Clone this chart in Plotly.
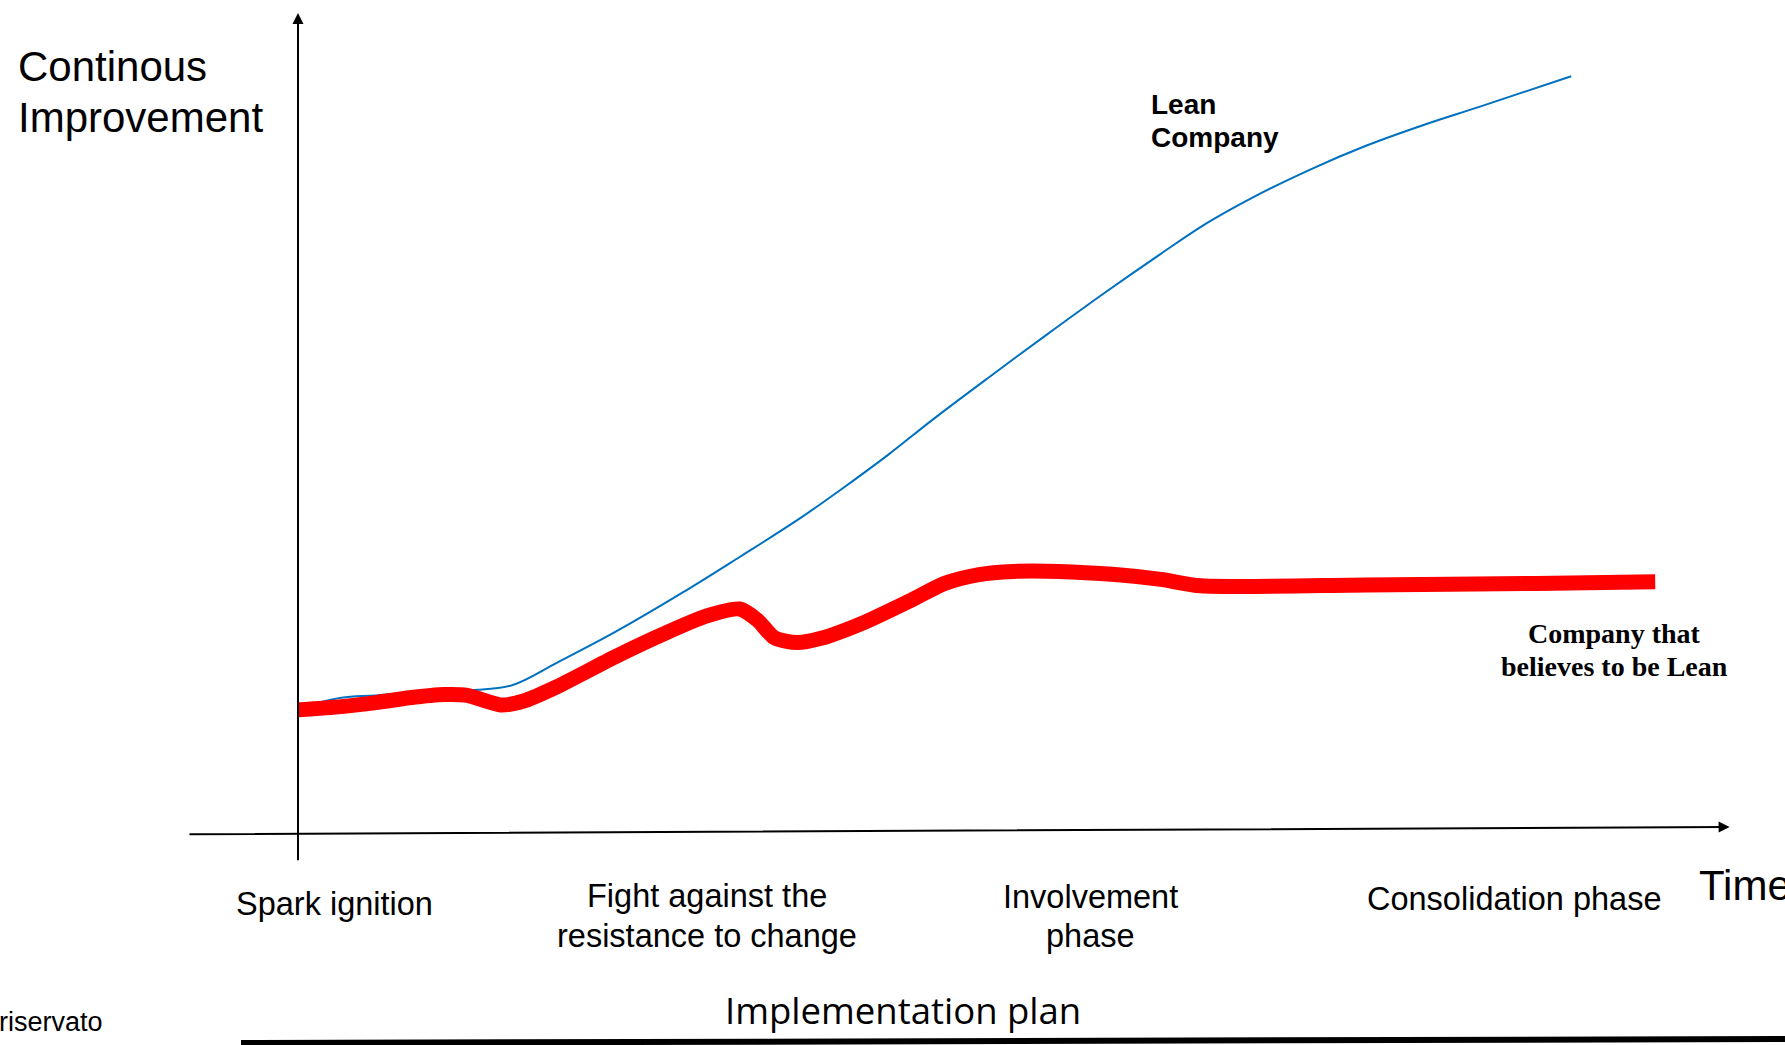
import plotly.graph_objects as go

# ---------------- data ----------------
# "Lean Company" curve: time vs continuous improvement (arbitrary units)
lean_t = [0, 3.6, 6.5, 12.2, 15.0, 17.9, 21.6, 26.4, 32.1, 36.8, 41.6, 45.4, 49.2,
          53.0, 57.7, 62.4, 67.2, 71.9, 75.7, 79.5, 84.3, 89.0, 93.8, 98.5, 106.1]
lean_v = [15.6, 16.9, 17.2, 17.9, 17.9, 18.5, 21.3, 25.1, 30.1, 34.5, 39.1, 43.1, 47.3,
          51.8, 57.1, 62.3, 67.5, 72.4, 76.2, 79.4, 82.9, 85.9, 88.5, 90.8, 94.6]

# "Company that believes to be Lean" curve
believer_t = [0, 3.6, 6.5, 9.3, 12.2, 14.1, 16.9, 18.8, 21.6, 26.4, 30.2, 34.0, 36.8,
              38.3, 39.7, 41.6, 43.5, 47.3, 51.1, 53.9, 56.75, 59.6, 63.4, 68.1, 71.9,
              75.25, 89.0, 103.2, 113.1]
believer_v = [15.4, 15.8, 16.3, 16.9, 17.3, 17.2, 16.0, 16.5, 18.3, 22.0, 24.7, 27.1, 28.0,
              26.6, 24.4, 23.8, 24.3, 26.4, 29.1, 31.2, 32.3, 32.7, 32.7, 32.3, 31.7,
              30.9, 31.0, 31.2, 31.4]

# implementation phases (x-axis categories) and their time positions
stage_labels = [["Spark ignition"],
                ["Fight against the", "resistance to change"],
                ["Involvement", "phase"],
                ["Consolidation phase"]]
stage_t = [3.0, 34.1, 66.0, 101.4]

y_title = ["Continous", "Improvement"]
x_title = "Time"
lean_label = ["Lean", "Company"]
believer_label = ["Company that", "believes to be Lean"]
footer_title = "Implementation plan"
footer_note = "riservato"

# ---------------- layout helpers ----------------
W, H = 1785, 1045
X0_PX, XSCALE = 298, 12.0   # px = X0_PX + XSCALE * t
Y0_PX, YSCALE = 833, 8.0    # px = Y0_PX - YSCALE * v
x_range = [(0 - X0_PX) / XSCALE, (W - X0_PX) / XSCALE]
y_range = [(Y0_PX - H) / YSCALE, Y0_PX / YSCALE]


def paper(px, py):
    return px / W, 1 - py / H


ARIAL = "Liberation Sans, Arial, sans-serif"
TIMES = "Liberation Serif, Times New Roman, serif"

fig = go.Figure()

fig.add_trace(go.Scatter(
    x=lean_t, y=lean_v, mode="lines",
    line=dict(color="#0070C0", width=2, shape="spline", smoothing=1.0),
    hoverinfo="skip", showlegend=False))

fig.add_trace(go.Scatter(
    x=believer_t, y=believer_v, mode="lines",
    line=dict(color="#FF0000", width=15, shape="spline", smoothing=0.7),
    hoverinfo="skip", showlegend=False))

annotations = []

# axis arrows
annotations.append(dict(x=0, y=102.5, ax=0, ay=-3.6, xref="x", yref="y", axref="x", ayref="y",
                        showarrow=True, arrowhead=2, arrowsize=1.1, arrowwidth=2,
                        arrowcolor="black", text=""))
annotations.append(dict(x=119.3, y=0.75, ax=-9.17, ay=-0.15, xref="x", yref="y", axref="x", ayref="y",
                        showarrow=True, arrowhead=2, arrowsize=1.1, arrowwidth=2,
                        arrowcolor="black", text=""))


def add_text(text, px, py, size, family, xanchor="left", bold=False):
    x, y = paper(px, py)
    annotations.append(dict(
        x=x, y=y, xref="paper", yref="paper", text=("<b>%s</b>" % text) if bold else text,
        showarrow=False, xanchor=xanchor, yanchor="middle",
        font=dict(size=size, family=family, color="black"), borderpad=0))


# y-axis title
for i, line in enumerate(y_title):
    add_text(line, 16.5, 67 + 50.5 * i, 42, ARIAL)

# x-axis title
add_text(x_title, 1698, 885, 42, ARIAL)

# series labels
for i, line in enumerate(lean_label):
    add_text(line, 1150, 104.5 + 33 * i, 28, ARIAL, bold=True)
for i, line in enumerate(believer_label):
    add_text(line, 1614, 633 + 33 * i, 28, TIMES, xanchor="center", bold=True)

# stage labels (time axis categories)
first_line_py = [903.5, 896, 896.5, 898.5]
for t, lines, py in zip(stage_t, stage_labels, first_line_py):
    for i, line in enumerate(lines):
        annotations.append(dict(
            x=t, y=(Y0_PX - (py + 39.5 * i)) / YSCALE, xref="x", yref="y", text=line,
            showarrow=False, xanchor="center", yanchor="middle",
            font=dict(size=32.5, family=ARIAL, color="black"), borderpad=0))

# footer
add_text(footer_title, 903, 1010, 36.5, "Open Sans, sans-serif", xanchor="center")
add_text(footer_note, -2, 1021.5, 27, ARIAL)

shapes = [dict(type="line", xref="paper", yref="paper",
               x0=241 / W, y0=1 - 1043 / H, x1=1.0, y1=1 - 1039 / H,
               line=dict(color="black", width=6))]

fig.update_layout(
    width=W, height=H,
    margin=dict(l=0, r=0, t=0, b=0, pad=0),
    paper_bgcolor="white", plot_bgcolor="white",
    xaxis=dict(range=x_range, visible=False, fixedrange=True),
    yaxis=dict(range=y_range, visible=False, fixedrange=True),
    annotations=annotations, shapes=shapes,
    showlegend=False,
)

fig.write_html("out.html", config={"displayModeBar": False})
